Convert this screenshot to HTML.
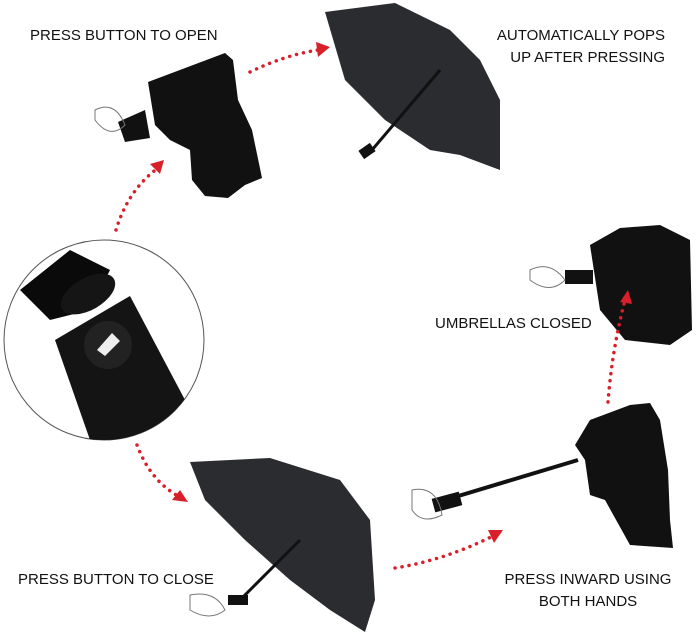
<!DOCTYPE html>
<html><head><meta charset="utf-8"><style>
html,body{margin:0;padding:0;background:#fff;width:700px;height:637px;overflow:hidden}
svg{display:block}
text{font-family:"Liberation Sans",sans-serif;font-size:15px;fill:#111}
</style></head><body>
<svg width="700" height="637" viewBox="0 0 700 637">
<defs>
<clipPath id="c"><circle cx="104" cy="340" r="100"/></clipPath>
</defs>
<!-- circle inset -->
<circle cx="104" cy="340" r="100" fill="#fff" stroke="#555" stroke-width="1"/>
<g clip-path="url(#c)">
<polygon points="20,290 70,250 110,270 90,310 50,320" fill="#0a0a0a"/>
<ellipse cx="88" cy="294" rx="30" ry="16" fill="#151515" transform="rotate(-30 88 294)"/>
<polygon points="55,340 130,296 185,400 205,440 120,470 90,440" fill="#141414"/>
<circle cx="108" cy="345" r="24" fill="#222"/>
<polygon points="97,350 112,333 120,341 105,356" fill="#eee"/>
</g>
<!-- closed umbrella top-left -->
<polygon points="148,82 225,53 233,60 238,100 252,130 262,178 245,185 228,198 205,196 192,180 190,150 170,140 155,125" fill="#111"/>
<polygon points="118,122 145,110 150,138 125,142" fill="#111"/>
<path d="M95,110 q20,-10 30,15 q-15,15 -30,-5z" fill="none" stroke="#777"/>
<!-- open umbrella top -->
<polygon points="325,12 395,3 450,30 480,60 500,100 500,170 460,155 430,150 385,120 345,80" fill="#2a2c30"/>
<line x1="440" y1="70" x2="372" y2="150" stroke="#111" stroke-width="3"/>
<rect x="360" y="146" width="14" height="10" fill="#111" transform="rotate(-35 367 151)"/>
<!-- closed umbrella right -->
<polygon points="590,245 620,228 660,225 690,240 692,330 670,345 625,340 600,310" fill="#111"/>
<rect x="565" y="270" width="28" height="14" fill="#111"/>
<path d="M530,270 q20,-10 35,10 q-15,15 -35,0z" fill="none" stroke="#777"/>
<!-- bottom right -->
<polygon points="590,420 630,405 650,403 660,420 668,470 670,520 673,548 630,545 605,500 590,495 585,460 575,445" fill="#111"/>
<line x1="455" y1="497" x2="578" y2="460" stroke="#111" stroke-width="4"/>
<rect x="433" y="495" width="28" height="14" fill="#111" transform="rotate(-15 447 502)"/>
<path d="M412,490 q25,-5 30,25 q-20,10 -30,-5z" fill="none" stroke="#777"/>
<!-- open umbrella bottom -->
<polygon points="190,462 270,458 340,480 370,520 375,600 365,632 330,610 290,580 245,540 205,500" fill="#2a2c30"/>
<line x1="300" y1="540" x2="240" y2="600" stroke="#111" stroke-width="3"/>
<rect x="228" y="595" width="20" height="10" fill="#111"/>
<path d="M190,595 q25,-5 35,15 q-15,12 -35,0z" fill="none" stroke="#777"/>
<!-- red dotted arrows -->
<g fill="none" stroke="#d8202a" stroke-width="3.5" stroke-linecap="round" stroke-dasharray="0.1 7">
<path d="M250,72 Q285,55 318,50"/>
<path d="M116,230 Q128,190 158,168"/>
<path d="M137,445 Q150,480 178,496"/>
<path d="M395,568 Q445,560 493,536"/>
<path d="M608,402 Q612,350 625,300"/>
</g>
<g fill="#d8202a">
<polygon points="330,47 316,42 318,57"/>
<polygon points="164,160 150,164 160,174"/>
<polygon points="188,502 172,500 180,490"/>
<polygon points="503,530 488,530 494,543"/>
<polygon points="628,290 620,302 632,304"/>
</g>
<!-- labels -->
<text x="30" y="40">PRESS BUTTON TO OPEN</text>
<text x="665" y="40" text-anchor="end">AUTOMATICALLY POPS</text>
<text x="665" y="62" text-anchor="end">UP AFTER PRESSING</text>
<text x="435" y="328">UMBRELLAS CLOSED</text>
<text x="18" y="584">PRESS BUTTON TO CLOSE</text>
<text x="588" y="584" text-anchor="middle">PRESS INWARD USING</text>
<text x="588" y="606" text-anchor="middle">BOTH HANDS</text>
</svg>
</body></html>
